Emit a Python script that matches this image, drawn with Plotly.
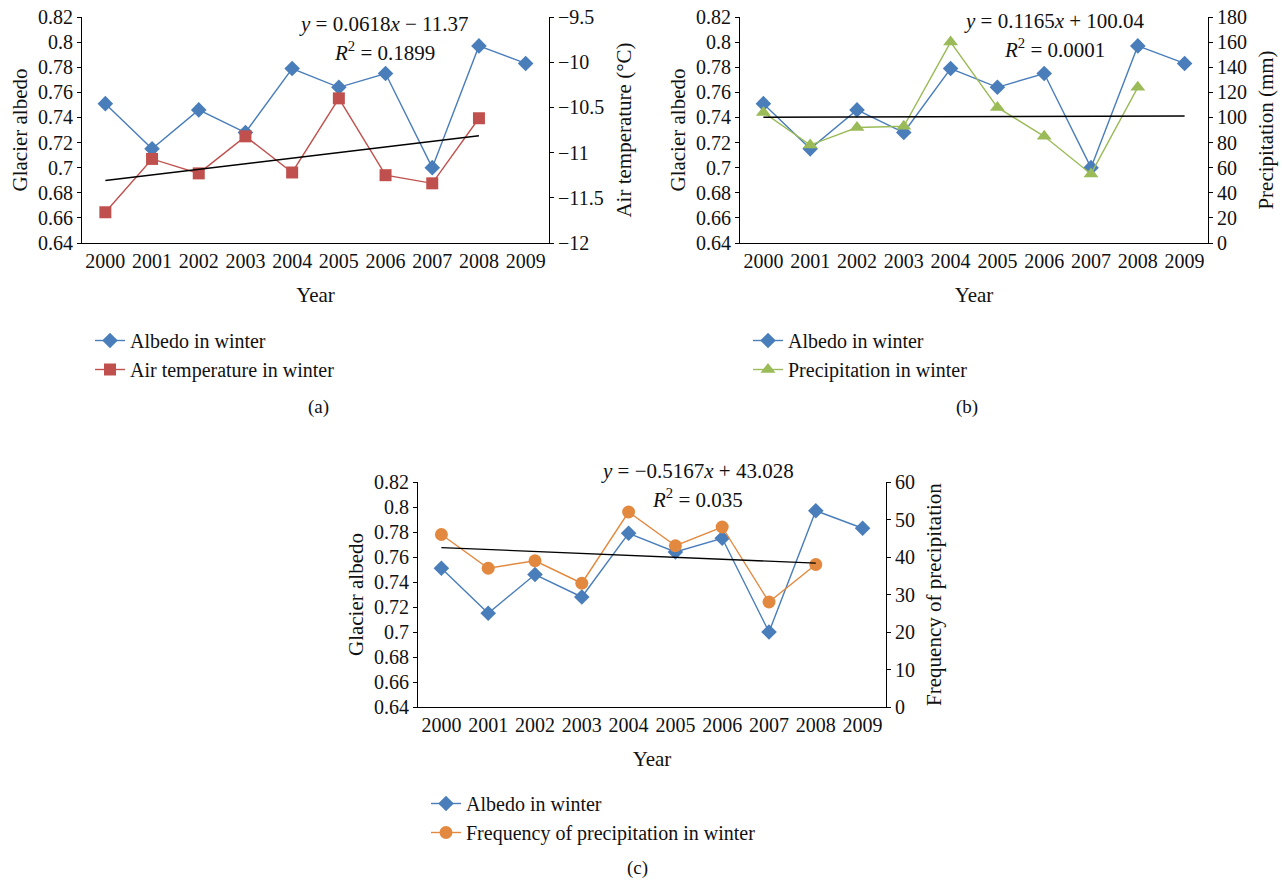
import plotly.graph_objects as go

# ---------------- data ----------------
years = [2000, 2001, 2002, 2003, 2004, 2005, 2006, 2007, 2008, 2009]
albedo = [0.751, 0.715, 0.746, 0.728, 0.779, 0.764, 0.775, 0.700, 0.797, 0.783]
years9 = [2000, 2001, 2002, 2003, 2004, 2005, 2006, 2007, 2008]
air_temp = [-11.66, -11.07, -11.23, -10.82, -11.22, -10.40, -11.25, -11.34, -10.62]
precip = [104, 78, 92, 93, 160, 108, 85, 55, 124]
freq = [46, 37, 39, 33, 52, 43, 48, 28, 38]

# linear trends as printed on the chart (x = 1, 2, ... for 2000, 2001, ...)
trend_a = (0.0618, -11.37)
trend_b = (0.1165, 100.04)
trend_c = (-0.5167, 43.028)

albedo_ticks = [0.64, 0.66, 0.68, 0.70, 0.72, 0.74, 0.76, 0.78, 0.80, 0.82]
albedo_ticktext = ["0.64", "0.66", "0.68", "0.7", "0.72", "0.74", "0.76", "0.78", "0.8", "0.82"]
temp_ticks = [-12, -11.5, -11, -10.5, -10, -9.5]
temp_ticktext = ["\u221212", "\u221211.5", "\u221211", "\u221210.5", "\u221210", "\u22129.5"]
precip_ticks = [0, 20, 40, 60, 80, 100, 120, 140, 160, 180]
freq_ticks = [0, 10, 20, 30, 40, 50, 60]

W, H = 1282, 883
FONT = "Liberation Serif"
BLUE = "#4A7EBB"
RED = "#C0504D"
GREEN = "#9BBB59"
ORANGE = "#E3893F"


def px(x):
    return x / W


def py(y):
    return 1 - y / H


def trend_line(coef, first_year, last_year):
    xs = [first_year, last_year]
    ys = [coef[0] * (x - years[0] + 1) + coef[1] for x in xs]
    return xs, ys


fig = go.Figure()

panels = [
    # (xaxis, yleft, yright, x0, x1, ytop, ybottom)
    ("x", "y", "y2", 82, 549, 17, 243),
    ("x2", "y3", "y4", 740, 1208, 17, 243),
    ("x3", "y5", "y6", 418, 886, 482, 707),
]

legend_names = ["legend", "legend2", "legend3"]
second = [
    dict(name="Air temperature in winter", y=air_temp, color=RED, symbol="square", size=12),
    dict(name="Precipitation in winter", y=precip, color=GREEN, symbol="triangle-up", size=13),
    dict(name="Frequency of precipitation in winter", y=freq, color=ORANGE, symbol="circle", size=13),
]
trends = [
    trend_line(trend_a, 2000, 2008),
    trend_line(trend_b, 2000, 2009),
    trend_line(trend_c, 2000, 2008),
]

for i, (xa, yl, yr, *_r) in enumerate(panels):
    fig.add_trace(go.Scatter(
        x=years, y=albedo, xaxis=xa, yaxis=yl, name="Albedo in winter",
        mode="lines+markers", line=dict(color=BLUE, width=1.4),
        marker=dict(symbol="diamond", size=12, color=BLUE),
        legend=legend_names[i]))
    s = second[i]
    fig.add_trace(go.Scatter(
        x=years9, y=s["y"], xaxis=xa, yaxis=yr, name=s["name"],
        mode="lines+markers", line=dict(color=s["color"], width=1.4),
        marker=dict(symbol=s["symbol"], size=s["size"], color=s["color"]),
        legend=legend_names[i]))
    tx, ty = trends[i]
    fig.add_trace(go.Scatter(
        x=tx, y=ty, xaxis=xa, yaxis=yr, mode="lines",
        line=dict(color="black", width=1.4), showlegend=False, hoverinfo="skip"))

axis_font = dict(family=FONT, size=20, color="#111")
title_font = dict(family=FONT, size=21, color="#111")

right_axes = [
    dict(title="Air temperature (\u00b0C)", range=[-12, -9.5], tickvals=temp_ticks, ticktext=temp_ticktext),
    dict(title="Precipitation (mm)", range=[0, 180], tickvals=precip_ticks,
         ticktext=[str(v) for v in precip_ticks]),
    dict(title="Frequency of precipitation", range=[0, 60], tickvals=freq_ticks,
         ticktext=[str(v) for v in freq_ticks]),
]

layout = {}
for i, (xa, yl, yr, x0, x1, yt, yb) in enumerate(panels):
    xkey = "xaxis" if xa == "x" else "xaxis" + xa[1:]
    ylkey = "yaxis" if yl == "y" else "yaxis" + yl[1:]
    yrkey = "yaxis" + yr[1:]
    layout[xkey] = dict(
        domain=[px(x0), px(x1)], anchor=yl, range=[1999.5, 2009.5],
        tickvals=years, ticktext=[str(y) for y in years], showline=True,
        linecolor="black", linewidth=1.2, ticks="", showgrid=False, zeroline=False,
        tickfont=axis_font, title=dict(text="Year", font=title_font, standoff=16),
        automargin=False, fixedrange=True)
    layout[ylkey] = dict(
        domain=[py(yb), py(yt)], anchor=xa, range=[0.64, 0.82],
        tickvals=albedo_ticks, ticktext=albedo_ticktext, showline=True,
        linecolor="black", linewidth=1.2, ticks="outside", ticklen=4, tickcolor="black",
        showgrid=False, zeroline=False, tickfont=axis_font,
        title=dict(text="Glacier albedo", font=title_font, standoff=4),
        automargin=False)
    ra = right_axes[i]
    layout[yrkey] = dict(
        overlaying=yl, anchor=xa, side="right", range=ra["range"],
        tickvals=ra["tickvals"], ticktext=ra["ticktext"], showline=True,
        linecolor="black", linewidth=1.2, ticks="outside", ticklen=4, tickcolor="black",
        showgrid=False, zeroline=False, tickfont=axis_font,
        title=dict(text=ra["title"], font=title_font, standoff=12),
        automargin=False)

legend_pos = [(90, 321), (748, 321), (426, 784)]
for i, (lx, ly) in enumerate(legend_pos):
    layout[legend_names[i]] = dict(
        x=px(lx), y=py(ly), xanchor="left", yanchor="top",
        font=dict(family=FONT, size=20, color="#111"), bgcolor="rgba(0,0,0,0)",
        itemwidth=30, tracegroupgap=0)

annotations = []
eqs = [
    ("<i>y</i> = 0.0618<i>x</i> \u2212 11.37", "<i>R</i><sup>2</sup> = 0.1899", 384, 24, 52),
    ("<i>y</i> = 0.1165<i>x</i> + 100.04", "<i>R</i><sup>2</sup> = 0.0001", 1054, 21, 49),
    ("<i>y</i> = \u22120.5167<i>x</i> + 43.028", "<i>R</i><sup>2</sup> = 0.035", 697, 471, 498),
]
for eq, r2, cx, y1, y2 in eqs:
    annotations.append(dict(text=eq, x=px(cx), y=py(y1), xref="paper", yref="paper",
                            xanchor="center", yanchor="middle",
                            showarrow=False, font=dict(family=FONT, size=21, color="#111")))
    annotations.append(dict(text=r2, x=px(cx), y=py(y2), xref="paper", yref="paper",
                            xanchor="center", yanchor="middle",
                            showarrow=False, font=dict(family=FONT, size=21, color="#111")))
for lab, cx, cy in [("(a)", 318, 407), ("(b)", 967, 407), ("(c)", 637, 868)]:
    annotations.append(dict(text=lab, x=px(cx), y=py(cy), xref="paper", yref="paper",
                            xanchor="center", yanchor="middle",
                            showarrow=False, font=dict(family=FONT, size=19, color="#111")))

fig.update_layout(
    template="none", width=W, height=H,
    margin=dict(l=0, r=0, t=0, b=0),
    paper_bgcolor="white", plot_bgcolor="rgba(0,0,0,0)",
    font=dict(family=FONT, color="#111"),
    annotations=annotations, hovermode=False,
    **layout)

fig.write_html("out.html")
